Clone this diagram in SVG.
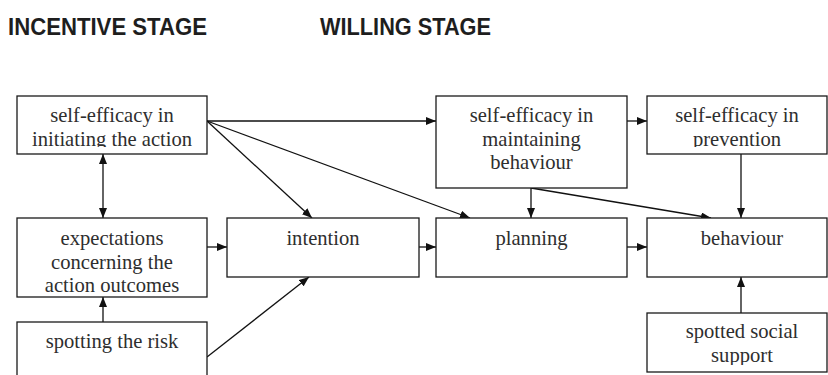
<svg xmlns="http://www.w3.org/2000/svg" width="828" height="375" viewBox="0 0 828 375">
  <style>
    .box { fill: #ffffff; stroke: #1a1a1a; stroke-width: 1.3; }
    .lbl { font-family: "Liberation Serif", "Times New Roman", serif; font-size: 20.6px; fill: #2e2e2e; text-anchor: middle; }
    .stage { font-family: "Liberation Sans", Arial, sans-serif; font-weight: bold; font-size: 24px; fill: #1e1e1e; }
    .edge { fill: none; stroke: #111111; stroke-width: 1.3; }
  </style>
  <defs>
    <marker id="arrow" viewBox="0 0 10 8" refX="10" refY="4" markerWidth="10" markerHeight="8" markerUnits="userSpaceOnUse" orient="auto-start-reverse">
      <path d="M0,0 L10,4 L0,8 z" fill="#111111"/>
    </marker>
    <!-- text areas stop a few pixels above each box's bottom edge -->
    <clipPath id="c-init"><rect x="17" y="96" width="190" height="51"/></clipPath>
    <clipPath id="c-maint"><rect x="436" y="96" width="191" height="85"/></clipPath>
    <clipPath id="c-prev"><rect x="647" y="96" width="180" height="51"/></clipPath>
    <clipPath id="c-expect"><rect x="17" y="218" width="190" height="74"/></clipPath>
    <clipPath id="c-support"><rect x="647" y="313" width="180" height="52"/></clipPath>
  </defs>

  <text class="stage" x="8" y="35" textLength="199" lengthAdjust="spacingAndGlyphs">INCENTIVE STAGE</text>
  <text class="stage" x="320" y="35" textLength="171" lengthAdjust="spacingAndGlyphs">WILLING STAGE</text>

  <g id="connectors">
    <line class="edge" x1="207" y1="121" x2="436" y2="121" marker-end="url(#arrow)"/>
    <line class="edge" x1="207" y1="121" x2="470" y2="218" marker-end="url(#arrow)"/>
    <line class="edge" x1="207" y1="121" x2="312" y2="218" marker-end="url(#arrow)"/>
    <line class="edge" x1="103" y1="154" x2="103" y2="218" marker-start="url(#arrow)" marker-end="url(#arrow)"/>
    <line class="edge" x1="103" y1="322" x2="103" y2="297" marker-end="url(#arrow)"/>
    <line class="edge" x1="207" y1="247" x2="227" y2="247" marker-end="url(#arrow)"/>
    <line class="edge" x1="207" y1="357" x2="309" y2="277" marker-end="url(#arrow)"/>
    <line class="edge" x1="419" y1="247" x2="436" y2="247" marker-end="url(#arrow)"/>
    <line class="edge" x1="627" y1="247" x2="647" y2="247" marker-end="url(#arrow)"/>
    <line class="edge" x1="531" y1="188" x2="531" y2="218" marker-end="url(#arrow)"/>
    <line class="edge" x1="531" y1="188" x2="711" y2="218" marker-end="url(#arrow)"/>
    <line class="edge" x1="627" y1="121" x2="647" y2="121" marker-end="url(#arrow)"/>
    <line class="edge" x1="741" y1="154" x2="741" y2="218" marker-end="url(#arrow)"/>
    <line class="edge" x1="741" y1="313" x2="741" y2="277" marker-end="url(#arrow)"/>
  </g>

  <g id="se-initiating">
    <rect class="box" x="17" y="96" width="190" height="58"/>
    <g clip-path="url(#c-init)">
      <text class="lbl" x="112" y="122">self-efficacy in</text>
      <text class="lbl" x="112" y="146">initiating the action</text>
    </g>
  </g>

  <g id="se-maintaining">
    <rect class="box" x="436" y="96" width="191" height="92"/>
    <g clip-path="url(#c-maint)">
      <text class="lbl" x="531.5" y="122">self-efficacy in</text>
      <text class="lbl" x="531.5" y="146">maintaining</text>
      <text class="lbl" x="531.5" y="169">behaviour</text>
    </g>
  </g>

  <g id="se-prevention">
    <rect class="box" x="647" y="96" width="180" height="58"/>
    <g clip-path="url(#c-prev)">
      <text class="lbl" x="737" y="122">self-efficacy in</text>
      <text class="lbl" x="737" y="146">prevention</text>
    </g>
  </g>

  <g id="expectations">
    <rect class="box" x="17" y="218" width="190" height="79"/>
    <g clip-path="url(#c-expect)">
      <text class="lbl" x="112" y="245">expectations</text>
      <text class="lbl" x="112" y="269">concerning the</text>
      <text class="lbl" x="112" y="292">action outcomes</text>
    </g>
  </g>

  <g id="intention">
    <rect class="box" x="227" y="218" width="192" height="59"/>
    <text class="lbl" x="323" y="245">intention</text>
  </g>

  <g id="planning">
    <rect class="box" x="436" y="218" width="191" height="59"/>
    <text class="lbl" x="531.5" y="245">planning</text>
  </g>

  <g id="behaviour">
    <rect class="box" x="647" y="218" width="180" height="59"/>
    <text class="lbl" x="742" y="245">behaviour</text>
  </g>

  <g id="spotting-risk">
    <rect class="box" x="17" y="322" width="190" height="60"/>
    <text class="lbl" x="112" y="348">spotting the risk</text>
  </g>

  <g id="social-support">
    <rect class="box" x="647" y="313" width="180" height="59"/>
    <g clip-path="url(#c-support)">
      <text class="lbl" x="742" y="338">spotted social</text>
      <text class="lbl" x="742" y="362">support</text>
    </g>
  </g>
</svg>
